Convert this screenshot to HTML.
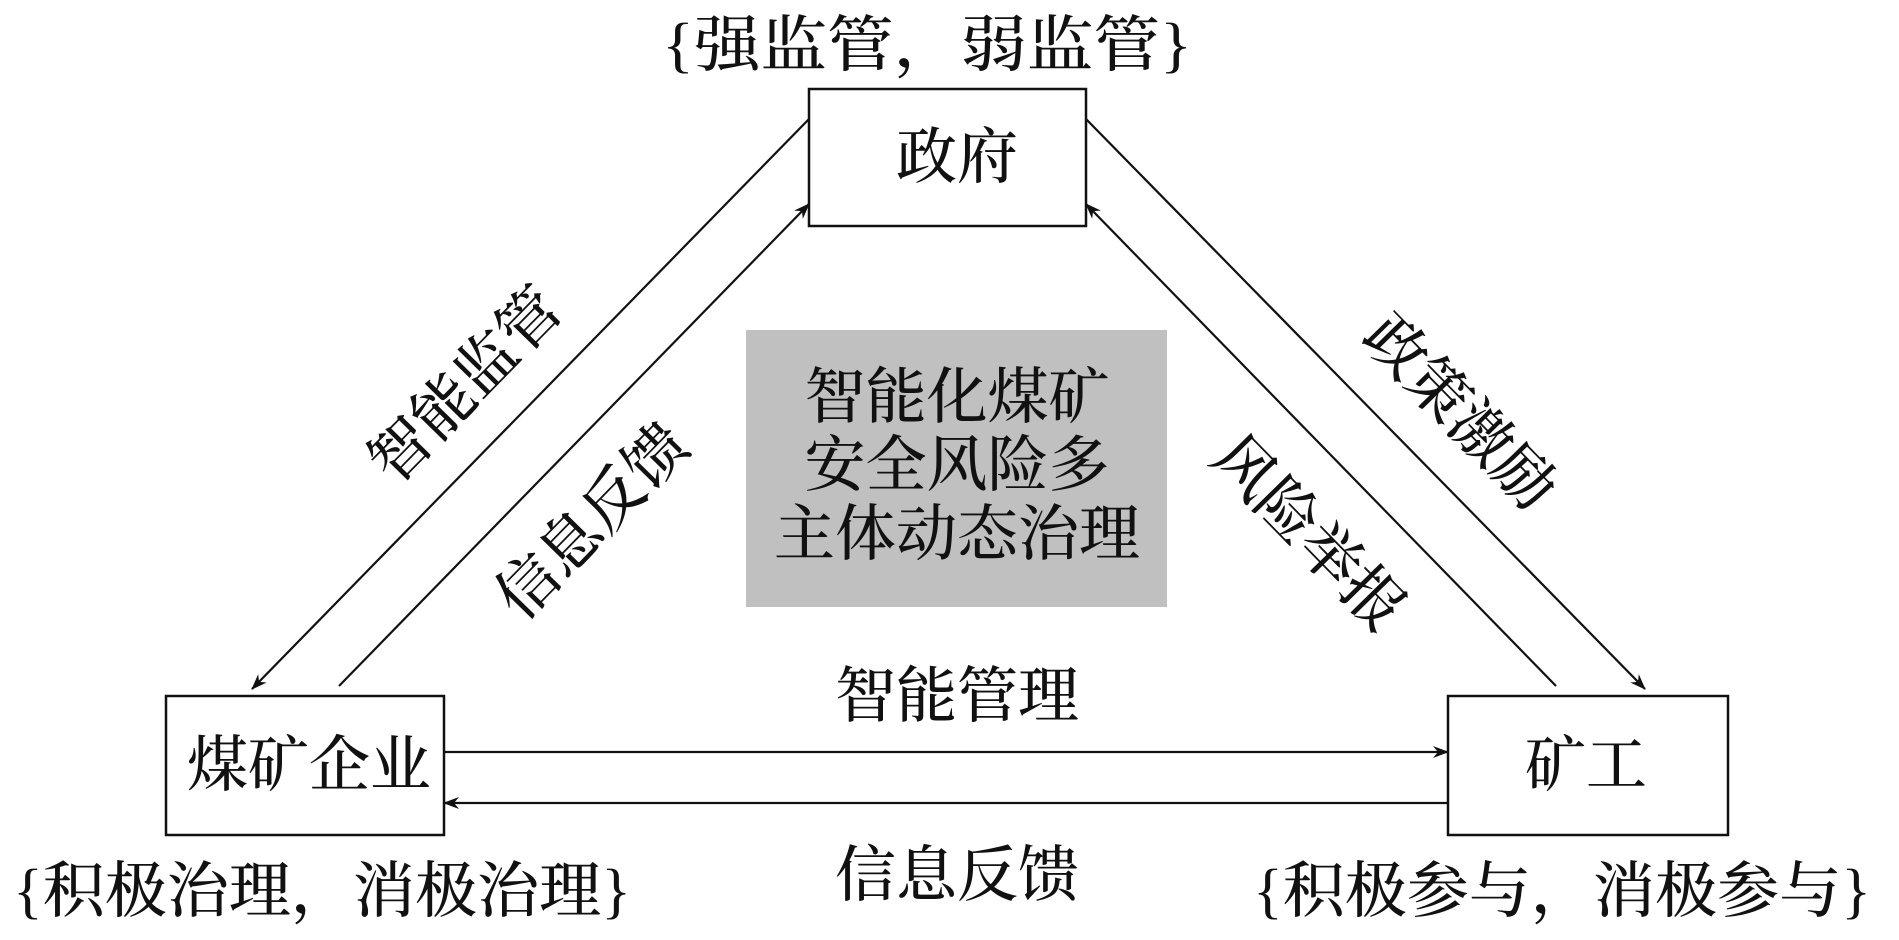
<!DOCTYPE html>
<html><head><meta charset="utf-8"><style>
html,body{margin:0;padding:0;background:#fff;}
body{width:1899px;height:935px;overflow:hidden;}
text{font-family:"Liberation Serif","Noto Serif CJK SC",serif;font-size:61px;font-weight:500;fill:#111;}
</style></head><body>
<svg width="1899" height="935" viewBox="0 0 1899 935" xmlns="http://www.w3.org/2000/svg">
<defs><marker id="a" markerWidth="16" markerHeight="12" refX="15" refY="6" orient="auto" markerUnits="userSpaceOnUse"><path d="M0,0 L16,6 L0,12 L5,6 Z" fill="#111"/></marker></defs>
<g fill="none" stroke="#111" stroke-width="2.5">
<rect x="809" y="89" width="277" height="137"/>
<rect x="166" y="696" width="278" height="139"/>
<rect x="1448" y="696" width="280" height="139"/>
</g>
<rect x="746" y="330" width="421" height="277" fill="#c0c0c0"/>
<g stroke="#111" stroke-width="2.2" marker-end="url(#a)">
<line x1="809" y1="119" x2="252" y2="689"/>
<line x1="339" y1="686" x2="809" y2="204"/>
<line x1="1086" y1="119" x2="1645" y2="689"/>
<line x1="1556" y1="686" x2="1086" y2="204"/>
<line x1="444" y1="752" x2="1448" y2="752"/>
<line x1="1448" y1="803" x2="444" y2="803"/>
</g>
<g text-anchor="middle" dominant-baseline="central">
<text x="927" y="46" textLength="530" lengthAdjust="spacingAndGlyphs">{强监管，弱监管}</text>
<text x="957" y="158">政府</text>
<text x="309" y="766">煤矿企业</text>
<text x="1586" y="766">矿工</text>
<text x="957" y="697">智能管理</text>
<text x="957" y="876">信息反馈</text>
<text x="322" y="892" textLength="618" lengthAdjust="spacingAndGlyphs">{积极治理，消极治理}</text>
<text x="1562" y="892" textLength="618" lengthAdjust="spacingAndGlyphs">{积极参与，消极参与}</text>
<g style="font-size:63px"><text x="957" y="398">智能化煤矿</text><text x="957" y="466">安全风险多</text><text x="957" y="535">主体动态治理</text></g>
<text transform="translate(466,386) rotate(-45.6)">智能监管</text>
<text transform="translate(593,522) rotate(-45.6)">信息反馈</text>
<text transform="translate(1459,413) rotate(45.6)">政策激励</text>
<text transform="translate(1308,534) rotate(45.6)">风险举报</text>
</g>
</svg>
</body></html>
